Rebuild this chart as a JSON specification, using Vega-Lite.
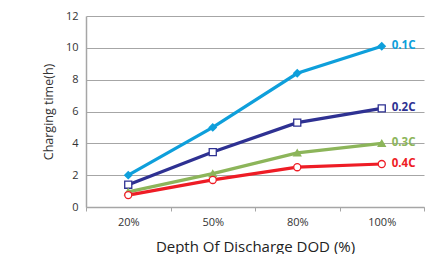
{
  "$schema": "https://vega.github.io/schema/vega-lite/v6.json",
  "autosize": "none",
  "width": 338,
  "height": 191,
  "padding": {"left": 86, "top": 16, "right": 19, "bottom": 47},
  "background": "white",
  "config": {
    "font": "Open Sans",
    "view": {"stroke": null}
  },
  "data": {
    "values": [
      {"dod": "20%", "series": "0.1C", "hours": 2.0},
      {"dod": "50%", "series": "0.1C", "hours": 5.0},
      {"dod": "80%", "series": "0.1C", "hours": 8.4},
      {"dod": "100%", "series": "0.1C", "hours": 10.1},
      {"dod": "20%", "series": "0.2C", "hours": 1.4},
      {"dod": "50%", "series": "0.2C", "hours": 3.45},
      {"dod": "80%", "series": "0.2C", "hours": 5.3},
      {"dod": "100%", "series": "0.2C", "hours": 6.2},
      {"dod": "20%", "series": "0.3C", "hours": 0.95},
      {"dod": "50%", "series": "0.3C", "hours": 2.1},
      {"dod": "80%", "series": "0.3C", "hours": 3.4},
      {"dod": "100%", "series": "0.3C", "hours": 4.0},
      {"dod": "20%", "series": "0.4C", "hours": 0.75},
      {"dod": "50%", "series": "0.4C", "hours": 1.7},
      {"dod": "80%", "series": "0.4C", "hours": 2.5},
      {"dod": "100%", "series": "0.4C", "hours": 2.7}
    ]
  },
  "encoding": {
    "x": {
      "field": "dod", "type": "ordinal", "sort": ["20%", "50%", "80%", "100%"],
      "scale": {"paddingInner": 0, "paddingOuter": 0},
      "axis": {
        "title": "Depth Of Discharge DOD (%)", "titleFontSize": 15, "titleFontWeight": "normal",
        "titleColor": "#222", "titlePadding": 12,
        "labelAngle": 0, "labelFontSize": 11, "labelColor": "#333", "labelPadding": 5,
        "domainColor": "#a6a6a6", "domainWidth": 1.5, "tickColor": "#a6a6a6", "tickSize": 4,
        "tickBand": "extent", "grid": false
      }
    },
    "y": {
      "field": "hours", "type": "quantitative",
      "scale": {"domain": [0, 12], "nice": false},
      "axis": {
        "title": "Charging time(h)", "titleFontSize": 12.5, "titleFontWeight": "normal",
        "titleColor": "#333", "titlePadding": 10,
        "values": [0, 2, 4, 6, 8, 10, 12], "labelFontSize": 11, "labelColor": "#333",
        "labelPadding": 8, "ticks": false, "domainColor": "#a6a6a6", "domainWidth": 1.5,
        "gridColor": "#a6a6a6", "gridWidth": 1
      }
    }
  },
  "layer": [
    {
      "mark": {"type": "line"},
      "encoding": {
        "color": {
          "field": "series", "type": "nominal", "legend": null,
          "scale": {"domain": ["0.1C", "0.2C", "0.3C", "0.4C"], "range": ["#0e9fdb", "#2e3192", "#8cb55a", "#ee1c25"]}
        },
        "strokeWidth": {
          "field": "series", "type": "nominal", "legend": null,
          "scale": {"domain": ["0.1C", "0.2C", "0.3C", "0.4C"], "range": [3.2, 3.2, 3.2, 5]}
        }
      }
    },
    {
      "mark": {"type": "point", "strokeWidth": 1.3, "opacity": 1, "size": 50},
      "encoding": {
        "shape": {
          "field": "series", "type": "nominal", "legend": null,
          "scale": {"domain": ["0.1C", "0.2C", "0.3C", "0.4C"], "range": ["diamond", "square", "triangle-up", "circle"]}
        },
        "stroke": {
          "field": "series", "type": "nominal", "legend": null,
          "scale": {"domain": ["0.1C", "0.2C", "0.3C", "0.4C"], "range": ["#0e9fdb", "#2e3192", "#8cb55a", "#ee1c25"]}
        },
        "fill": {
          "field": "series", "type": "nominal", "legend": null,
          "scale": {"domain": ["0.1C", "0.2C", "0.3C", "0.4C"], "range": ["#0e9fdb", "#ffffff", "#8cb55a", "#ffffff"]}
        },
        "fillOpacity": {"value": 1}
      }
    },
    {
      "transform": [{"filter": "datum.dod === '100%'"}],
      "mark": {"type": "text", "align": "left", "dx": 10, "fontSize": 11.5, "fontWeight": "bold"},
      "encoding": {
        "text": {"field": "series"},
        "color": {
          "field": "series", "type": "nominal", "legend": null,
          "scale": {"domain": ["0.1C", "0.2C", "0.3C", "0.4C"], "range": ["#0e9fdb", "#2e3192", "#8cb55a", "#ee1c25"]}
        }
      }
    },
    {
      "data": {"values": [{"note": "2.35V/cell@25℃"}]},
      "mark": {"type": "text", "align": "center", "baseline": "middle", "fontSize": 8.5, "color": "#444"},
      "encoding": {
        "text": {"field": "note"},
        "x": {"datum": "100%"},
        "y": {"datum": 12.45}
      }
    }
  ]
}
